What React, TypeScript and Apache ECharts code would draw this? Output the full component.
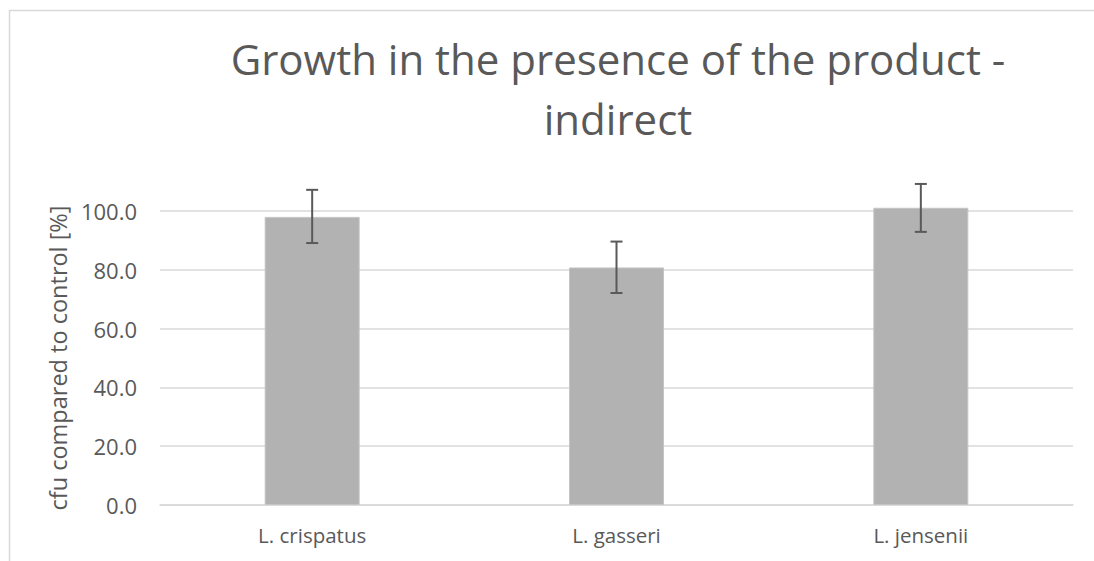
import React, { useEffect, useRef } from "react";
import * as echarts from "echarts";

const categories = ["L. crispatus", "L. gasseri", "L. jensenii"];
const meanValues = [98.0, 80.8, 101.1];
const errorLow = [89.1, 72.1, 92.9];
const errorHigh = [107.2, 89.6, 109.2];
const titleText = "Growth in the presence of the product -\nindirect";
const yAxisTitle = "cfu compared to control [%]";

const FONT = "'Open Sans', 'Noto Sans', sans-serif";
const TEXT = "#595959";

export default function App() {
  const ref = useRef<HTMLDivElement>(null);
  useEffect(() => {
    if (!ref.current) return;
    const chart = echarts.init(ref.current, null, { renderer: "svg" });
    const errData = categories.map((_, i) => [i, errorLow[i], errorHigh[i]]);
    chart.setOption({
      animation: false,
      backgroundColor: "#ffffff",
      title: {
        text: titleText,
        left: 613,
        top: 23,
        textAlign: "center",
        textStyle: {
          fontFamily: FONT,
          fontSize: 42,
          fontWeight: "normal",
          color: TEXT,
          lineHeight: 60,
        },
      },
      graphic: [
        {
          type: "rect",
          shape: { x: 9.5, y: 10.5, width: 2000, height: 2000 },
          style: { fill: "none", stroke: "#d9d9d9", lineWidth: 1.5 },
          silent: true,
          z: -10,
        },
      ],
      grid: { left: 160, right: 21, top: 211, bottom: 56, containLabel: false },
      xAxis: {
        type: "category",
        data: categories,
        axisLine: { show: true, lineStyle: { color: "#d9d9d9", width: 1.5 } },
        axisTick: { show: false },
        axisLabel: {
          fontFamily: FONT,
          fontSize: 20.5,
          color: TEXT,
          margin: 19,
        },
      },
      yAxis: {
        type: "value",
        min: 0,
        max: 100,
        interval: 20,
        name: yAxisTitle,
        nameLocation: "middle",
        nameGap: 88,
        nameTextStyle: { fontFamily: FONT, fontSize: 23.5, color: TEXT },
        axisLine: { show: false },
        axisTick: { show: false },
        splitLine: { lineStyle: { color: "#d9d9d9", width: 1.5 } },
        axisLabel: {
          fontFamily: FONT,
          fontSize: 22,
          color: TEXT,
          margin: 23,
          formatter: (v: number) => v.toFixed(1),
        },
      },
      series: [
        {
          type: "bar",
          data: meanValues,
          barWidth: 95,
          clip: false,
          itemStyle: { color: "#b2b2b2", borderColor: "#c4c4c4", borderWidth: 1 },
          z: 2,
        },
        {
          type: "custom",
          data: errData,
          clip: false,
          z: 5,
          renderItem: (params: any, api: any) => {
            const x = api.coord([api.value(0), 0])[0];
            const yl = api.coord([api.value(0), api.value(1)])[1];
            const yh = api.coord([api.value(0), api.value(2)])[1];
            const style = { stroke: "#595959", lineWidth: 2 };
            const hw = 6;
            return {
              type: "group",
              children: [
                { type: "line", shape: { x1: x, y1: yh, x2: x, y2: yl }, style },
                { type: "line", shape: { x1: x - hw, y1: yh, x2: x + hw, y2: yh }, style },
                { type: "line", shape: { x1: x - hw, y1: yl, x2: x + hw, y2: yl }, style },
              ],
            };
          },
        },
      ],
    });
    return () => chart.dispose();
  }, []);
  return (
    <div
      ref={ref}
      style={{ position: "fixed", left: 0, top: 0, width: 1094, height: 561, background: "#fff" }}
    />
  );
}
